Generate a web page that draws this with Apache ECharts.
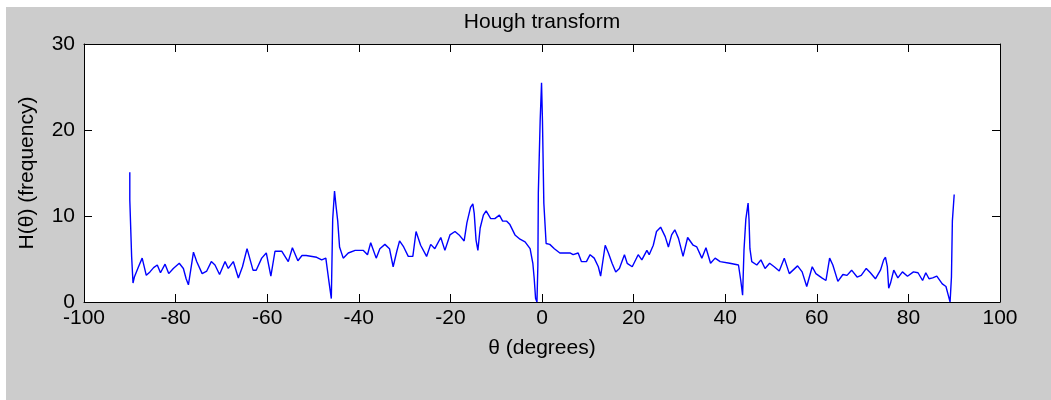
<!DOCTYPE html>
<html>
<head>
<meta charset="utf-8">
<title>Hough transform</title>
<script src="https://cdn.jsdelivr.net/npm/echarts@6/dist/echarts.min.js"></script>
<style>
  html, body { margin: 0; padding: 0; background: #ffffff; }
  #chart { position: absolute; left: 6px; top: 7px; width: 1045px; height: 393px; }
</style>
</head>
<body>
<div id="chart"></div>
<script>
// angle (degrees) and Hough count
const theta = [
  -90.0, -90.0, -89.6, -89.3, -89.0, -88.1, -87.3, -86.4, -85.6, -84.8,
  -84.0, -83.3, -82.3, -81.5, -80.5, -79.2, -78.3, -77.7, -77.2, -76.1,
  -75.4, -74.2, -73.2, -72.2, -71.4, -70.4, -69.2, -68.5, -67.4, -66.3,
  -65.4, -64.4, -63.1, -62.4, -61.2, -60.2, -59.2, -58.3, -56.8, -55.4,
  -54.5, -53.3, -52.4, -51.5, -49.2, -48.1, -47.2, -46.6, -46.0, -45.7,
  -45.3, -45.0, -44.6, -44.2, -43.4, -42.3, -40.8, -39.0, -38.1, -37.4,
  -36.2, -35.4, -34.3, -33.3, -32.5, -31.7, -31.1, -30.2, -29.2, -28.2,
  -27.5, -26.5, -25.2, -24.3, -23.4, -22.1, -21.2, -20.1, -19.0, -18.1,
  -17.0, -16.4, -15.6, -15.1, -14.8, -14.4, -14.0, -13.5, -12.8, -12.2,
  -11.2, -10.3, -9.3, -8.6, -7.7, -7.0, -5.9, -4.8, -3.7, -2.6,
  -2.0, -1.7, -1.4, -1.1, -0.9, -0.8, -0.4, -0.1, 0.1, 0.4,
  0.9, 1.7, 2.7, 3.9, 6.1, 6.8, 7.9, 8.6, 9.7, 10.5,
  11.4, 12.3, 12.8, 13.8, 14.5, 15.3, 16.1, 16.9, 18.0, 18.6,
  19.7, 21.0, 21.8, 22.9, 23.4, 24.3, 25.0, 25.9, 26.9, 27.6,
  28.3, 29.0, 29.8, 30.8, 31.8, 33.0, 33.8, 34.9, 35.8, 36.8,
  37.8, 38.9, 41.0, 42.9, 43.4, 43.8, 44.1, 44.5, 45.0, 45.2,
  45.4, 45.8, 46.9, 47.8, 48.7, 49.7, 50.7, 51.8, 52.9, 54.0,
  55.8, 56.8, 57.8, 59.0, 59.8, 61.1, 62.0, 62.8, 63.5, 64.6,
  65.7, 66.6, 67.6, 68.8, 69.7, 70.8, 71.7, 72.8, 73.9, 74.6,
  75.0, 75.4, 75.7, 76.1, 76.8, 77.7, 78.7, 79.8, 81.1, 82.1,
  83.1, 83.8, 84.5, 85.3, 86.2, 87.4, 88.2, 88.7, 89.1, 89.4,
  89.6, 90.0, 90.0
]
const counts = [
  15.1, 11.9, 5.3, 2.2, 2.9, 4.1, 5.1, 3.1, 3.5, 4.0,
  4.3, 3.4, 4.4, 3.3, 3.9, 4.5, 3.9, 2.7, 2.0, 5.8,
  4.7, 3.3, 3.6, 4.7, 4.3, 3.2, 4.7, 3.9, 4.7, 2.8,
  4.1, 6.2, 3.7, 3.7, 5.1, 5.7, 3.0, 5.9, 5.9, 4.7,
  6.3, 4.8, 5.4, 5.4, 5.2, 4.9, 5.1, 2.7, 0.4, 9.6,
  12.9, 11.3, 9.4, 6.4, 5.1, 5.7, 6.0, 6.0, 5.5, 6.9,
  5.1, 6.2, 6.7, 6.2, 4.1, 5.9, 7.1, 6.4, 5.3, 5.3,
  8.2, 6.6, 5.3, 6.7, 6.2, 7.5, 6.0, 7.8, 8.2, 7.8,
  7.1, 9.2, 11.0, 11.4, 10.3, 7.2, 6.0, 8.6, 10.1, 10.6,
  9.7, 9.7, 10.1, 9.4, 9.4, 9.0, 7.8, 7.3, 7.0, 6.2,
  4.5, 2.7, 0.4, 0.0, 4.3, 12.7, 21.1, 25.5, 21.1, 11.5,
  6.8, 6.7, 6.2, 5.7, 5.7, 5.5, 5.7, 4.7, 4.7, 5.5,
  5.1, 4.1, 3.0, 6.6, 5.7, 4.5, 3.5, 3.9, 5.5, 4.5,
  4.1, 5.5, 4.9, 6.0, 5.5, 6.6, 8.2, 8.7, 7.6, 6.4,
  7.8, 8.4, 7.4, 5.3, 7.5, 6.6, 6.4, 5.1, 6.3, 4.5,
  5.1, 4.7, 4.5, 4.3, 2.5, 0.8, 6.0, 9.6, 11.5, 9.6,
  6.2, 4.7, 4.3, 4.9, 3.9, 4.5, 4.1, 3.6, 5.1, 3.3,
  4.2, 3.5, 1.8, 4.1, 3.3, 2.8, 2.5, 5.1, 4.3, 2.4,
  3.2, 3.1, 3.7, 2.9, 3.1, 3.9, 3.4, 2.7, 3.7, 4.9,
  5.2, 4.1, 1.6, 2.2, 3.7, 2.8, 3.5, 3.0, 3.5, 3.4,
  2.5, 3.4, 2.7, 2.8, 3.0, 2.1, 1.8, 0.8, 0.0, 2.9,
  9.4, 9.6, 12.5
]

const xRange = { min: -100, max: 100, interval: 20 }
const yRange = { min: 0, max: 30, interval: 10 }

const chart = echarts.init(document.getElementById('chart'))

const font = 'Liberation Sans, Arial, sans-serif'
const black = '#000000'

function frameAxis(extra) {
  return Object.assign({
    type: 'value',
    axisLine: { show: true, onZero: false, lineStyle: { color: black, width: 1 } },
    axisTick: { show: true, inside: true, length: 8, lineStyle: { color: black, width: 1 } },
    splitLine: { show: false },
    axisLabel: { show: false }
  }, extra)
}

chart.setOption({
  animation: false,
  backgroundColor: '#cccccc',
  textStyle: { fontFamily: font },
  title: {
    text: 'Hough transform',
    left: 531,
    top: 0,
    textAlign: 'center',
    textStyle: { fontSize: 21, fontWeight: 'normal', color: black, fontFamily: font }
  },
  grid: {
    left: 78,
    top: 37,
    width: 916,
    height: 258,
    show: true,
    backgroundColor: '#ffffff',
    borderWidth: 0
  },
  xAxis: [
    frameAxis(Object.assign({
      position: 'bottom',
      name: 'θ (degrees)',
      nameLocation: 'middle',
      nameGap: 36,
      nameTextStyle: { fontSize: 21, color: black, fontFamily: font },
      axisLabel: { show: true, fontSize: 21, color: black, margin: 6, fontFamily: font }
    }, xRange)),
    frameAxis(Object.assign({ position: 'top' }, xRange))
  ],
  yAxis: [
    frameAxis(Object.assign({
      position: 'left',
      name: 'H(θ) (frequency)',
      nameLocation: 'middle',
      nameGap: 46,
      nameTextStyle: { fontSize: 21, color: black, fontFamily: font },
      axisLabel: { show: true, fontSize: 21, color: black, margin: 9, fontFamily: font }
    }, yRange)),
    frameAxis(Object.assign({ position: 'right' }, yRange))
  ],
  series: [
    {
      type: 'line',
      data: theta.map((t, i) => [t, counts[i]]),
      showSymbol: false,
      smooth: false,
      lineStyle: { color: '#0000ff', width: 1.4 },
      itemStyle: { color: '#0000ff' }
    }
  ]
})
</script>
</body>
</html>
